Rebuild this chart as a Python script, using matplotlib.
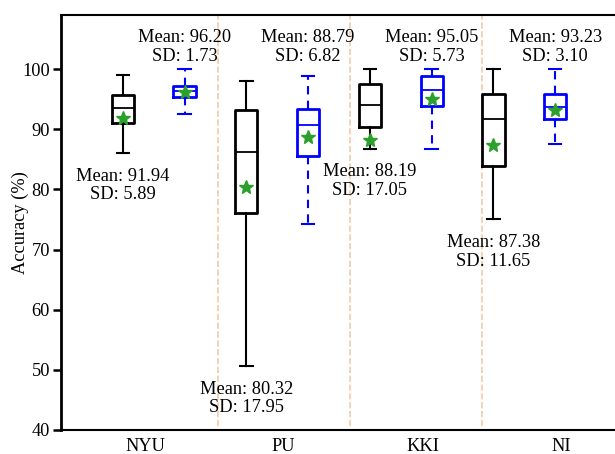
import matplotlib
matplotlib.use("Agg")
import matplotlib.pyplot as plt

plt.rcParams['font.family'] = ['Liberation Serif', 'DejaVu Serif']
plt.rcParams['font.size'] = 13.2

sites = ["NYU", "PU", "KKI", "NI"]

# box stats: whislo, q1, median, q3, whishi, mean
black_stats = [
    (86.1, 91.1, 93.6, 95.7, 99.0, 91.94),
    (50.6, 76.0, 86.3, 93.2, 98.0, 80.32),
    (86.8, 90.4, 94.0, 97.6, 100.0, 88.19),
    (75.1, 83.9, 91.7, 95.8, 100.0, 87.38),
]
blue_stats = [
    (92.6, 95.3, 96.4, 97.2, 100.0, 96.20),
    (74.3, 85.6, 90.7, 93.35, 98.9, 88.79),
    (86.8, 93.9, 96.5, 98.8, 100.0, 95.05),
    (87.5, 91.7, 93.7, 95.8, 100.0, 93.23),
]
black_sd = [5.89, 17.95, 17.05, 11.65]
blue_sd = [1.73, 6.82, 5.73, 3.10]

black_pos = [0, 1, 2, 3]
blue_pos = [0.5, 1.5, 2.5, 3.5]
tick_pos = [0.18, 1.30, 2.43, 3.55]
sep_pos = [0.77, 1.84, 2.91]

# label y positions (centre of the two text lines)
black_label_y = [80.7, 45.2, 81.4, 69.6]
blue_label_y = [103.7, 103.7, 103.7, 103.7]


def to_dicts(stats):
    out = []
    for lo, q1, med, q3, hi, mean in stats:
        out.append(dict(whislo=lo, q1=q1, med=med, q3=q3, whishi=hi,
                        mean=mean, fliers=[]))
    return out


fig = plt.figure(figsize=(6.15, 4.54), dpi=100)
ax = fig.add_axes([61 / 615, 24 / 454, 556 / 615, 415 / 454])

star = dict(marker='*', markerfacecolor='#2ca02c', markeredgecolor='#2ca02c',
            markersize=10)

ax.bxp(to_dicts(black_stats), positions=black_pos, widths=0.18,
       showmeans=True, meanprops=star, showfliers=False,
       boxprops=dict(color='black', linewidth=2),
       medianprops=dict(color='black', linewidth=1.3),
       whiskerprops=dict(color='black', linewidth=1.5),
       capprops=dict(color='black', linewidth=1.5), capwidths=0.1)

ax.bxp(to_dicts(blue_stats), positions=blue_pos, widths=0.18,
       showmeans=True, meanprops=star, showfliers=False,
       boxprops=dict(color='blue', linewidth=2),
       medianprops=dict(color='blue', linewidth=1.3),
       whiskerprops=dict(color='blue', linewidth=1.5, linestyle=(0, (4, 3))),
       capprops=dict(color='blue', linewidth=1.5), capwidths=0.1)

for x in sep_pos:
    ax.axvline(x, ymin=0.01, color='#f7c9a5', linestyle='--', linewidth=1.2,
               zorder=0)

for i in range(len(sites)):
    ax.text(black_pos[i], black_label_y[i],
            f"Mean: {black_stats[i][5]:.2f}\nSD: {black_sd[i]:.2f}",
            ha='center', va='center', linespacing=1.1)
    ax.text(blue_pos[i], blue_label_y[i],
            f"Mean: {blue_stats[i][5]:.2f}\nSD: {blue_sd[i]:.2f}",
            ha='center', va='center', linespacing=1.1)

ax.set_xlim(-0.5, 4.0)
ax.set_ylim(40, 109)
ax.set_yticks([40, 50, 60, 70, 80, 90, 100])
ax.set_xticks(tick_pos)
ax.set_xticklabels(sites)
ax.tick_params(axis='x', length=0, pad=6)
ax.tick_params(axis='y', length=6, width=1.8, pad=2)
ax.set_ylabel("Accuracy (%)")
ax.yaxis.set_label_coords(-0.057, 0.5)
for s in ['left', 'bottom', 'top']:
    ax.spines[s].set_linewidth(1.5)
ax.spines['left'].set_linewidth(2)
ax.spines['right'].set_visible(False)

fig.savefig("out.png", dpi=100)
